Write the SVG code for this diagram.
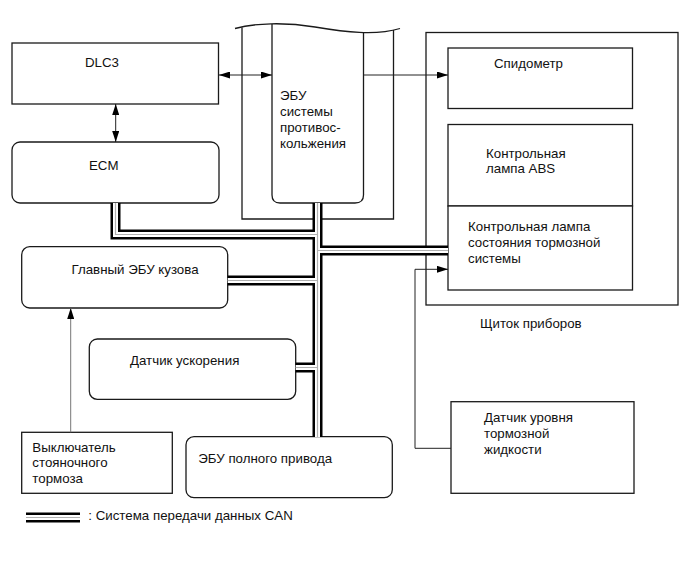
<svg xmlns="http://www.w3.org/2000/svg" width="691" height="564" viewBox="0 0 691 564">
<style>
text{font-family:"Liberation Sans",Arial,sans-serif;font-size:13.3px;fill:#111}
.box{fill:#fff;stroke:#1a1a1a;stroke-width:1.3}
.frame{fill:none;stroke:#1a1a1a;stroke-width:1.3}
.ln{fill:none;stroke:#222;stroke-width:1}
.lg{fill:none;stroke:#777;stroke-width:1}
.busO{fill:none;stroke:#000;stroke-width:10;stroke-linejoin:miter}
.busW{fill:none;stroke:#fff;stroke-width:5;stroke-linejoin:miter}
.busC{fill:none;stroke:#b0b0b0;stroke-width:1.2;stroke-linejoin:miter}
</style>
<defs>
<marker id="ah" viewBox="0 0 11 7" refX="11" refY="3.5" markerWidth="11" markerHeight="7" markerUnits="userSpaceOnUse" orient="auto-start-reverse">
<path d="M0,0 L11,3.5 L0,7 z" fill="#000"/>
</marker>
</defs>
<rect width="691" height="564" fill="#fff"/>

<g id="cluster">
<rect class="frame" x="426" y="32.5" width="252" height="272.5"/>
<text x="480" y="327.5">Щиток приборов</text>
</g>
<g id="speedometer">
<rect class="box" x="448" y="48" width="184.5" height="60.5"/>
<text x="494" y="68">Спидометр</text>
</g>
<g id="abs-lamp">
<rect class="box" x="448" y="124.5" width="184.5" height="81.5"/>
<text x="486" y="157.5">Контрольная</text>
<text x="486" y="173">лампа ABS</text>
</g>
<g id="brake-lamp">
<rect class="box" x="448" y="206" width="184.5" height="84"/>
<text x="468" y="231">Контрольная лампа</text>
<text x="468" y="247">состояния тормозной</text>
<text x="468" y="263">системы</text>
</g>

<g id="anticollision-ecu">
<path class="frame" d="M235,28.5 C255,23 285,22 315,27 S375,36 400,28.5"/>
<path class="frame" d="M242,27.6 V219 H393.5 V30"/>
<path class="frame" d="M272,24 V195 Q272,203 280,203 H355 Q363.5,203 363.5,195 V32.5"/>
<text x="280" y="100">ЭБУ</text>
<text x="280" y="116">системы</text>
<text x="280" y="132">противос-</text>
<text x="280" y="148">кольжения</text>
</g>

<g id="dlc3">
<rect class="box" x="12" y="43" width="206.5" height="61"/>
<text x="85" y="67">DLC3</text>
</g>
<g id="ecm">
<rect class="box" x="12" y="142" width="207" height="61" rx="8"/>
<text x="89" y="169.5">ECM</text>
</g>
<g id="body-ecu">
<rect class="box" x="21.7" y="246.7" width="206" height="61.3" rx="8"/>
<text x="71.5" y="274.3">Главный ЭБУ кузова</text>
</g>
<g id="accel-sensor">
<rect class="box" x="89.3" y="339" width="206.4" height="60.3" rx="8"/>
<text x="130" y="365.3">Датчик ускорения</text>
</g>
<g id="parking-switch">
<rect class="box" x="21.7" y="432.3" width="150.6" height="61"/>
<text x="32.3" y="451.5">Выключатель</text>
<text x="32.3" y="467">стояночного</text>
<text x="32.3" y="482.5">тормоза</text>
</g>
<g id="awd-ecu">
<rect class="box" x="186" y="436.7" width="206.3" height="61" rx="8"/>
<text x="198.3" y="462.7">ЭБУ полного привода</text>
</g>
<g id="fluid-sensor">
<rect class="box" x="451" y="401.7" width="183" height="91.6"/>
<text x="484" y="422">Датчик уровня</text>
<text x="484" y="438">тормозной</text>
<text x="484" y="454">жидкости</text>
</g>

<g id="connectors">
<line class="ln" x1="219" y1="75" x2="272" y2="75" marker-start="url(#ah)" marker-end="url(#ah)"/>
<line class="ln" x1="115.7" y1="104" x2="115.7" y2="142" marker-start="url(#ah)" marker-end="url(#ah)"/>
<line class="ln" x1="363.5" y1="75" x2="448" y2="75" marker-end="url(#ah)"/>
<path class="ln" d="M451,448.3 H415 V269.3 H448" marker-end="url(#ah)"/>
<line class="lg" x1="70.7" y1="432.3" x2="70.7" y2="308" marker-end="url(#ah)"/>
<g id="can-bus">
<path class="busO" d="M317.5,203 V437 M115.5,203 V234.5 H317.5 M317.5,250.5 H448 M227.7,280.5 H317.5 M295.7,367.5 H317.5"/>
<path class="busW" d="M317.5,203 V437 M115.5,203 V234.5 H317.5 M317.5,250.5 H448 M227.7,280.5 H317.5 M295.7,367.5 H317.5"/>
<path class="busC" d="M317.5,203 V437 M115.5,203 V234.5 H317.5 M317.5,250.5 H448 M227.7,280.5 H317.5 M295.7,367.5 H317.5"/>
</g>
</g>

<g id="legend">
<line class="busO" x1="26" y1="517.5" x2="80" y2="517.5"/>
<line class="busW" x1="26" y1="517.5" x2="80" y2="517.5"/>
<line class="busC" x1="26" y1="517.5" x2="80" y2="517.5"/>
<text x="88.3" y="520">: Система передачи данных CAN</text>
</g>
</svg>
